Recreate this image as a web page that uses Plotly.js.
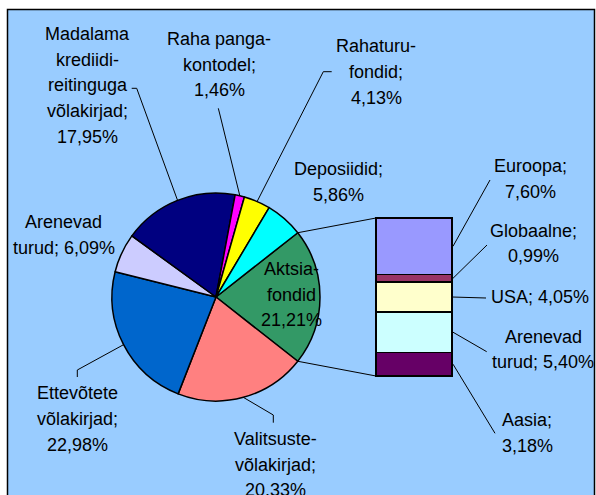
<!DOCTYPE html>
<html>
<head>
<meta charset="utf-8">
<script src="https://cdn.plot.ly/plotly-3.0.1.min.js"></script>
<style>html,body{margin:0;padding:0;background:#fff;}#chart{width:596px;height:495px;}</style>
</head>
<body>
<div id="chart"></div>
<script>
// ---- data ----
const pieCategories = ["Aktsia-fondid", "Valitsuste-võlakirjad", "Ettevõtete võlakirjad", "Arenevad turud",
  "Madalama krediidi-reitinguga võlakirjad", "Raha panga-kontodel", "Rahaturu-fondid", "Deposiidid"];
const pieValues = [21.21, 20.33, 22.98, 6.09, 17.95, 1.46, 4.13, 5.86];
const pieColors = ["#339966", "#FF8080", "#0066CC", "#CCCCFF", "#000080", "#FF00FF", "#FFFF00", "#00FFFF"];

// bar segments, bottom to top
const barCategories = ["Aasia", "Arenevad turud", "USA", "Globaalne", "Euroopa"];
const barValues = [3.18, 5.40, 4.05, 0.99, 7.60];
const barColors = ["#660066", "#CCFFFF", "#FFFFCC", "#993366", "#9999FF"];

// label line layouts ({v} = value)
const pieLabelLines = [
  ["Aktsia-", "fondid", "{v}"],
  ["Valitsuste-", "võlakirjad;", "{v}"],
  ["Ettevõtete", "võlakirjad;", "{v}"],
  ["Arenevad", "turud; {v}"],
  ["Madalama", "krediidi-", "reitinguga", "võlakirjad;", "{v}"],
  ["Raha panga-", "kontodel;", "{v}"],
  ["Rahaturu-", "fondid;", "{v}"],
  ["Deposiidid;", "{v}"]
];
const barLabelLines = [
  ["Aasia;", "{v}"],
  ["Arenevad", "turud; {v}"],
  ["USA; {v}"],
  ["Globaalne;", "{v}"],
  ["Euroopa;", "{v}"]
];

// ---- layout helpers (pixels) ----
const W = 596, H = 495;
const px = x => x / W, py = y => 1 - y / H;
const CX = 216, CY = 297, R = 104;
const BAR_L = 376, BAR_R = 452, BAR_T = 218, BAR_B = 376, PAD = 8;
const FS = 18, LS = 25.8;

// label anchor positions: [centerX, firstBaseline]
const pieLabelPos = [[291, 275], [275, 445], [77.5, 399.3], [63.5, 228.3], [87.5, 40], [219, 45], [376, 52.3], [338, 175]];
const barLabelPos = [[527, 426], [543, 342.7], [540, 303.3], [533.5, 236.7], [530, 172.3]];
// leader line bends for pie: list of points before reaching the slice (null = none)
const pieLeaderBends = [null, [[273.3, 422.7], [273.3, 415]], [[77.3, 377], [77.3, 370]], null,
  [[131.7, 88.3], [136.7, 88.3]], [[218.3, 108.3], [220, 115]], [[331.7, 71.7], [323.3, 71.7]], null];
const barLeaderEnds = [[495, 433.3], [486.7, 351.7], [486, 298], [487, 245], [490, 180]];

const fmt = v => v.toFixed(2).replace('.', ',') + '%';

const pieTotal = pieValues.reduce((a, b) => a + b, 0);
const barTotal = barValues.reduce((a, b) => a + b, 0);
const rotation = 90 - 180 * pieValues[0] / pieTotal;

const annotations = [];
function addLabel(lines, pos, v) {
  lines.forEach((ln, i) => {
    annotations.push({
      xref: 'paper', yref: 'paper', x: px(pos[0]), y: py(pos[1] + i * LS - 6.2),
      xanchor: 'center', yanchor: 'middle', showarrow: false,
      text: ln.replace('{v}', fmt(v)),
      font: {family: 'Liberation Sans, Arial, sans-serif', size: FS, color: '#000'}
    });
  });
}
pieLabelLines.forEach((l, i) => addLabel(l, pieLabelPos[i], pieValues[i]));
barLabelLines.forEach((l, i) => addLabel(l, barLabelPos[i], barValues[i]));

const shapes = [];
// background panel
shapes.push({type: 'rect', xref: 'paper', yref: 'paper', layer: 'below',
  x0: px(7.5), x1: px(594.5), y0: py(510), y1: py(9.5),
  fillcolor: '#99CCFF', line: {color: '#000', width: 1.5}});

function pathOf(pts) {
  return 'M ' + pts.map(p => px(p[0]) + ',' + py(p[1])).join(' L ');
}
function pieAt(deg) {
  const t = deg * Math.PI / 180;
  return [CX + R * Math.sin(t), CY - R * Math.cos(t)];
}
// pie leader lines
let cum = rotation;
pieValues.forEach((v, i) => {
  const span = 360 * v / pieTotal;
  const mid = cum + span / 2;
  if (pieLeaderBends[i]) {
    shapes.push({type: 'path', xref: 'paper', yref: 'paper',
      path: pathOf(pieLeaderBends[i].concat([pieAt(mid)])), line: {color: '#000', width: 1}});
  }
  cum += span;
});
// connectors pie -> bar
const barScale = (BAR_B - BAR_T) / barTotal;
shapes.push({type: 'path', xref: 'paper', yref: 'paper',
  path: pathOf([pieAt(rotation), [BAR_L, BAR_B - barTotal * barScale]]), line: {color: '#000', width: 1}});
shapes.push({type: 'path', xref: 'paper', yref: 'paper',
  path: pathOf([pieAt(rotation + 360 * pieValues[0] / pieTotal), [BAR_L, BAR_B]]), line: {color: '#000', width: 1}});
// bar leader lines
let bcum = 0;
barValues.forEach((v, i) => {
  const midY = BAR_B - (bcum + v / 2) * barScale;
  shapes.push({type: 'path', xref: 'paper', yref: 'paper',
    path: pathOf([[BAR_R + 1, midY], barLeaderEnds[i]]), line: {color: '#000', width: 1}});
  bcum += v;
});

const traces = [{
  type: 'pie', labels: pieCategories, values: pieValues, sort: false, direction: 'clockwise',
  rotation: rotation, textinfo: 'none', hoverinfo: 'label+value', showlegend: false,
  marker: {colors: pieColors, line: {color: '#000', width: 1.5}},
  domain: {x: [px(CX - R), px(CX + R)], y: [py(CY + R), py(CY - R)]}
}];
barValues.forEach((v, i) => {
  traces.push({type: 'bar', x: [0], y: [v], name: barCategories[i], showlegend: false,
    width: (BAR_R - BAR_L) / (BAR_R - BAR_L + 2 * PAD),
    marker: {color: barColors[i], line: {color: '#000', width: 1.5}}, hoverinfo: 'name+y'});
});
const padData = PAD / barScale;

const layout = {
  width: W, height: H, margin: {l: 0, r: 0, t: 0, b: 0},
  paper_bgcolor: '#fff', plot_bgcolor: 'rgba(0,0,0,0)',
  barmode: 'stack', bargap: 0,
  xaxis: {domain: [px(BAR_L - PAD), px(BAR_R + PAD)], range: [-0.5, 0.5], visible: false, fixedrange: true},
  yaxis: {domain: [py(BAR_B + PAD), py(BAR_T - PAD)], range: [-padData, barTotal + padData], visible: false, fixedrange: true},
  shapes: shapes, annotations: annotations,
  font: {family: 'Liberation Sans, Arial, sans-serif', size: FS, color: '#000'}
};
Plotly.newPlot('chart', traces, layout, {displayModeBar: false, staticPlot: true});
</script>
</body>
</html>
